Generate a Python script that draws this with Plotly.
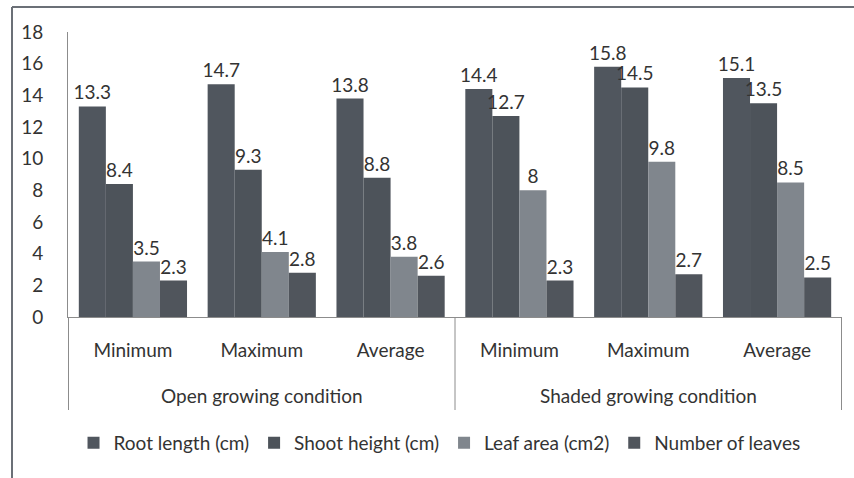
import plotly.graph_objects as go

groups = ["Open growing condition", "Shaded growing condition"]
conditions = ["Open growing condition"] * 3 + ["Shaded growing condition"] * 3
stats = ["Minimum", "Maximum", "Average"] * 2

series_names = ["Root length (cm)", "Shoot height (cm)", "Leaf area (cm2)", "Number of leaves"]
root_length = [13.3, 14.7, 13.8, 14.4, 15.8, 15.1]
shoot_height = [8.4, 9.3, 8.8, 12.7, 14.5, 13.5]
leaf_area = [3.5, 4.1, 3.8, 8, 9.8, 8.5]
num_leaves = [2.3, 2.8, 2.6, 2.3, 2.7, 2.5]
colors = ["#50565e", "#4d535a", "#80868d", "#50555c"]

FONT = "Lato"
FS = 19
TXT = "#333333"
W, H = 854, 478
L, R, T, B = 68, 12, 32, 161
pw, ph = W - L - R, H - T - B

keys = [f"{c}|{s}" for c, s in zip(conditions, stats)]

fig = go.Figure()
for name, vals, c in zip(series_names, [root_length, shoot_height, leaf_area, num_leaves], colors):
    fig.add_trace(go.Bar(
        x=keys, y=vals, name=name, marker=dict(color=c, line=dict(width=0)),
        text=[f"{v:g}" for v in vals], textposition="outside", cliponaxis=False,
        constraintext="none", textfont=dict(size=FS, color=TXT, family=FONT),
    ))


def px_x(p):
    return (p - L) / pw


def px_y(p):
    return (H - B - p) / ph


shapes = [
    dict(type="line", xref="paper", yref="paper", x0=px_x(12), x1=px_x(854), y0=px_y(7), y1=px_y(7),
         line=dict(color="#6b7077", width=2)),
    dict(type="line", xref="paper", yref="paper", x0=px_x(12), x1=px_x(12), y0=px_y(7), y1=px_y(478),
         line=dict(color="#6b7077", width=2)),
]
# group dividers below the axis
n = len(keys)
bounds = [-0.5] + [i - 0.5 for i in range(1, n) if conditions[i] != conditions[i - 1]] + [n - 0.5]
for b in bounds:
    shapes.append(dict(type="line", xref="x", yref="paper", x0=b, x1=b, y0=0, y1=px_y(410),
                       line=dict(color="#8c8c8c", width=1)))

annotations = []
for g in groups:
    idx = [i for i, c in enumerate(conditions) if c == g]
    annotations.append(dict(x=(idx[0] + idx[-1]) / 2, xref="x", y=px_y(395), yref="paper",
                            text=g, showarrow=False, xanchor="center", yanchor="middle",
                            font=dict(size=FS, family=FONT, color=TXT)))

fig.update_layout(
    width=W, height=H, margin=dict(l=L, r=R, t=T, b=B),
    paper_bgcolor="white", plot_bgcolor="white",
    barmode="group", bargap=0.16, bargroupgap=0,
    font=dict(family=FONT, size=FS, color=TXT),
    showlegend=True,
    legend=dict(orientation="h", x=0.48, xanchor="center", y=px_y(443), yanchor="middle",
                font=dict(size=FS, family=FONT, color=TXT), itemwidth=30, traceorder="normal",
                tracegroupgap=0),
    xaxis=dict(type="category", showline=True, linecolor="#8c8c8c", linewidth=1,
               tickvals=keys, ticktext=stats, ticks="", ticklabelstandoff=16,
               tickfont=dict(size=FS, family=FONT, color=TXT), showgrid=False),
    yaxis=dict(range=[0, 18], dtick=2, showgrid=False, zeroline=False, showline=True,
               linecolor="#8c8c8c", linewidth=1, ticks="", ticklabelstandoff=20,
               tickfont=dict(size=FS, family=FONT, color=TXT)),
    shapes=shapes,
    annotations=annotations,
)

fig.write_html("out.html")
